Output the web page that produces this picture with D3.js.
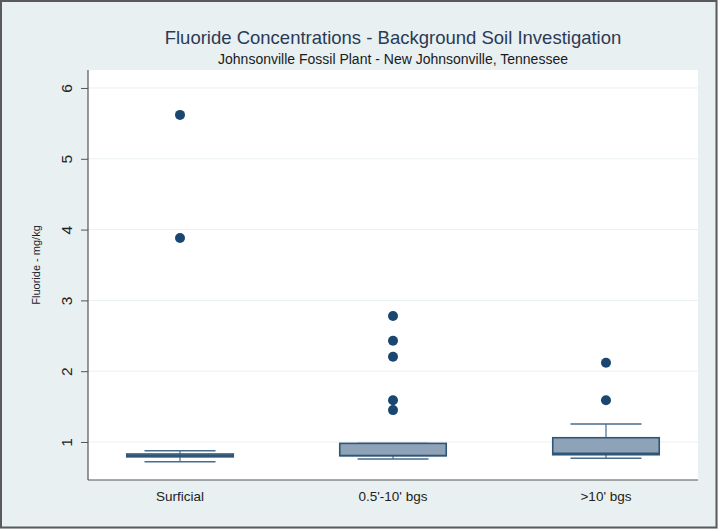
<!DOCTYPE html>
<html>
<head>
<meta charset="utf-8">
<script src="https://cdn.jsdelivr.net/npm/d3@7"></script>
<style>
  html, body { margin: 0; padding: 0; background: #fff; }
  svg { display: block; font-family: "Liberation Sans", Arial, sans-serif; }
</style>
</head>
<body>
<svg id="chart" width="718" height="529"></svg>
<script>
// Fluoride box plots by sampling depth
const groups = ["Surficial", "0.5'-10' bgs", ">10' bgs"];
const lowerWhisker = [0.72, 0.76, 0.77];
const q1 = [0.79, 0.805, 0.82];
const median = [0.805, 0.81, 0.84];
const q3 = [0.83, 0.98, 1.06];
const upperWhisker = [0.875, 0.98, 1.255];
const outliers = [
  [5.62, 3.88],
  [2.78, 2.43, 2.205, 1.59, 1.45],
  [2.12, 1.59]
];
const yTicks = [1, 2, 3, 4, 5, 6];

const title = "Fluoride Concentrations - Background Soil Investigation";
const subtitle = "Johnsonville Fossil Plant - New Johnsonville, Tennessee";
const yTitle = "Fluoride - mg/kg";

const W = 718, H = 529;
const plot = { left: 88, right: 698, top: 70, bottom: 480 };

const svg = d3.select("#chart");

// outer frame and graph background
svg.append("rect").attr("x", 0).attr("y", 0).attr("width", W).attr("height", H)
  .attr("fill", "#e8f0f2");
svg.append("rect").attr("x", 1).attr("y", 1).attr("width", W - 2.5).attr("height", H - 2.5)
  .attr("fill", "none").attr("stroke", "#5a5a5a").attr("stroke-width", 2);

// plot region
svg.append("rect")
  .attr("x", plot.left).attr("y", plot.top)
  .attr("width", plot.right - plot.left).attr("height", plot.bottom - plot.top)
  .attr("fill", "#ffffff");

const y = d3.scaleLinear().domain([0.463, 6.254]).range([plot.bottom, plot.top]);
const x = d3.scalePoint().domain(groups).range([plot.left, plot.right]).padding(0.432);
const boxW = x.step() * 0.5;
const capW = boxW * 2 / 3;

// gridlines
svg.append("g").selectAll("line").data(yTicks).join("line")
  .attr("x1", plot.left).attr("x2", plot.right)
  .attr("y1", d => y(d)).attr("y2", d => y(d))
  .attr("stroke", "#e8f0f2").attr("stroke-width", 1);

// y axis
const yAxis = svg.append("g")
  .attr("transform", `translate(${plot.left},0)`)
  .call(d3.axisLeft(y).tickValues(yTicks).tickFormat(d3.format("d"))
    .tickSize(7).tickSizeOuter(0).tickPadding(0));
yAxis.select(".domain").remove();
yAxis.selectAll(".tick line").attr("stroke", "#555").attr("stroke-width", 1);
yAxis.selectAll(".tick text")
  .attr("fill", "#222").attr("font-size", 15.5)
  .attr("text-anchor", "middle")
  .attr("x", null).attr("dy", null)
  .attr("transform", "translate(-22,0) rotate(-90)")
  .attr("dominant-baseline", "central");

// axis lines
svg.append("line").attr("x1", plot.left).attr("x2", plot.left)
  .attr("y1", plot.top).attr("y2", plot.bottom)
  .attr("stroke", "#555").attr("stroke-width", 1.2);
svg.append("line").attr("x1", plot.left).attr("x2", plot.right)
  .attr("y1", plot.bottom).attr("y2", plot.bottom)
  .attr("stroke", "#555").attr("stroke-width", 1.2);

// x category labels
svg.append("g").selectAll("text").data(groups).join("text")
  .attr("x", d => x(d)).attr("y", 501)
  .attr("text-anchor", "middle").attr("font-size", 13.5).attr("fill", "#222")
  .text(d => d);

// boxes
const navy = "#1a476f";
const boxes = svg.append("g").selectAll("g").data(groups).join("g");

boxes.append("line") // upper whisker
  .attr("x1", d => x(d)).attr("x2", d => x(d))
  .attr("y1", (d, i) => y(q3[i])).attr("y2", (d, i) => y(upperWhisker[i]))
  .attr("stroke", "#4a6b8c").attr("stroke-width", 1.2);
boxes.append("line") // lower whisker
  .attr("x1", d => x(d)).attr("x2", d => x(d))
  .attr("y1", (d, i) => y(q1[i])).attr("y2", (d, i) => y(lowerWhisker[i]))
  .attr("stroke", "#4a6b8c").attr("stroke-width", 1.2);
boxes.append("line") // upper cap
  .attr("x1", d => x(d) - capW / 2).attr("x2", d => x(d) + capW / 2)
  .attr("y1", (d, i) => y(upperWhisker[i])).attr("y2", (d, i) => y(upperWhisker[i]))
  .attr("stroke", "#4a6b8c").attr("stroke-width", 1.5);
boxes.append("line") // lower cap
  .attr("x1", d => x(d) - capW / 2).attr("x2", d => x(d) + capW / 2)
  .attr("y1", (d, i) => y(lowerWhisker[i])).attr("y2", (d, i) => y(lowerWhisker[i]))
  .attr("stroke", "#4a6b8c").attr("stroke-width", 1.5);
boxes.append("rect")
  .attr("x", d => x(d) - boxW / 2).attr("width", boxW)
  .attr("y", (d, i) => y(q3[i]))
  .attr("height", (d, i) => y(q1[i]) - y(q3[i]))
  .attr("fill", "#8fa3b8").attr("stroke", "#2f5577").attr("stroke-width", 1.6);
boxes.append("line") // median
  .attr("x1", d => x(d) - boxW / 2).attr("x2", d => x(d) + boxW / 2)
  .attr("y1", (d, i) => y(median[i])).attr("y2", (d, i) => y(median[i]))
  .attr("stroke", "#2f5577").attr("stroke-width", 1.6);

// outside values
boxes.selectAll("circle").data((d, i) => outliers[i].map(v => ({ g: d, v }))).join("circle")
  .attr("cx", p => x(p.g)).attr("cy", p => y(p.v)).attr("r", 5)
  .attr("fill", navy);

// titles
svg.append("text").attr("x", (plot.left + plot.right) / 2).attr("y", 44)
  .attr("text-anchor", "middle").attr("font-size", 18.5).attr("fill", "#2b3a55")
  .text(title);
svg.append("text").attr("x", (plot.left + plot.right) / 2).attr("y", 64)
  .attr("text-anchor", "middle").attr("font-size", 14).attr("fill", "#1a1a1a")
  .text(subtitle);
svg.append("text")
  .attr("transform", `translate(40,${(y(1) + y(6)) / 2}) rotate(-90)`)
  .attr("text-anchor", "middle").attr("font-size", 11).attr("fill", "#222")
  .text(yTitle);
</script>
</body>
</html>
